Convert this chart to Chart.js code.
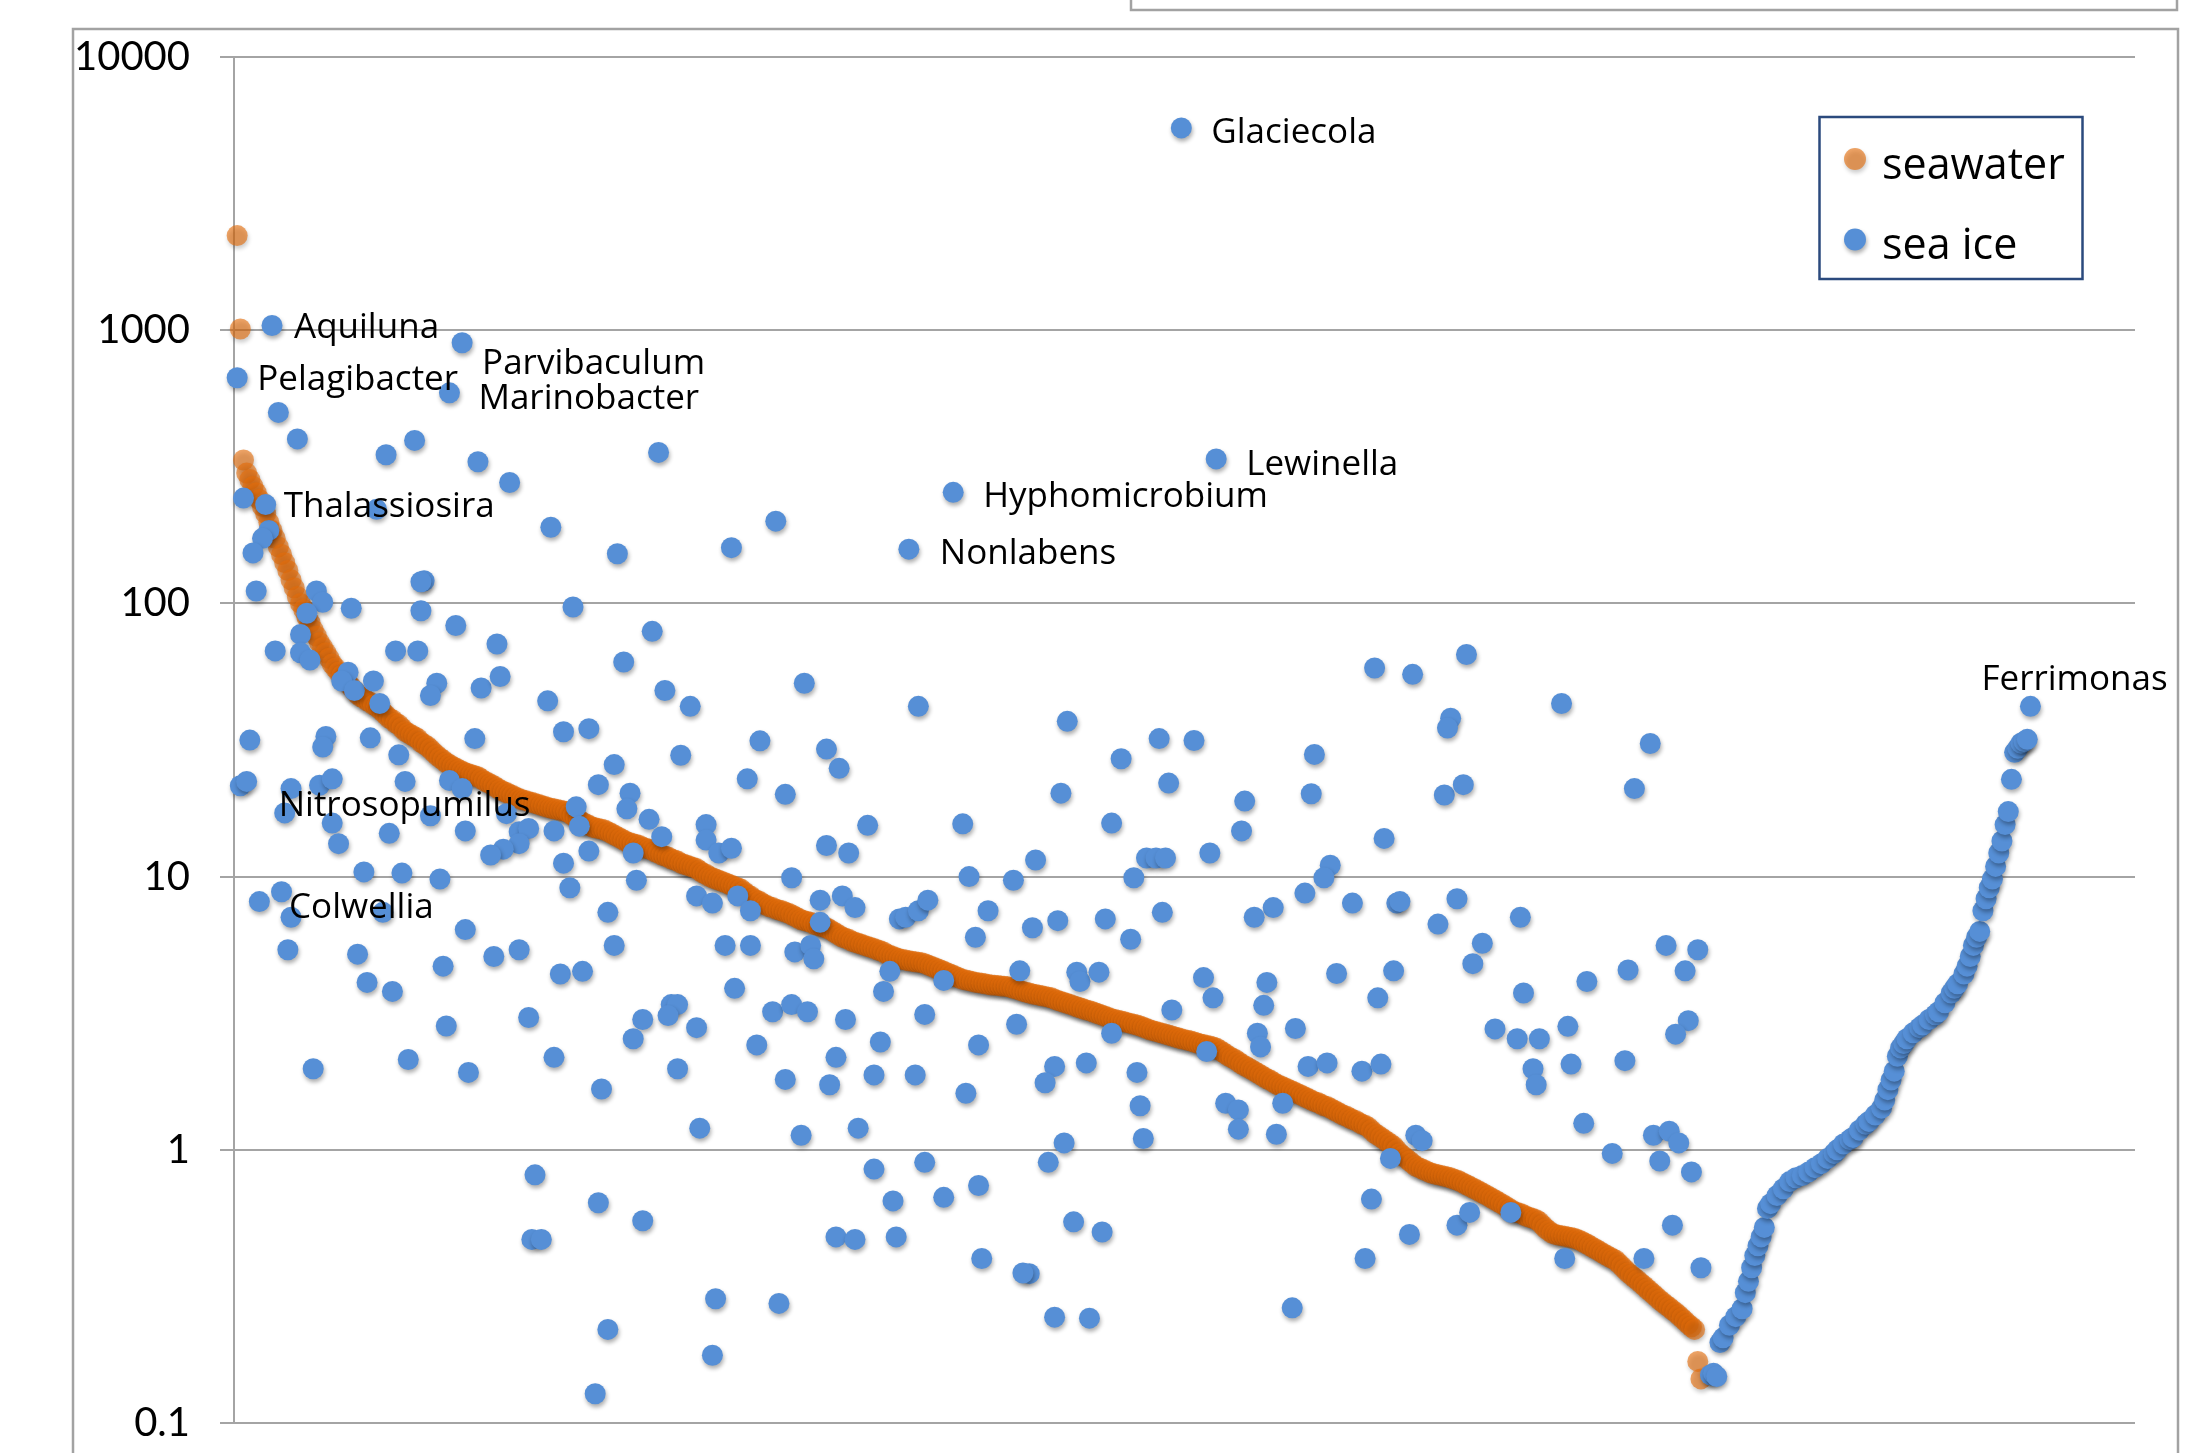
<!DOCTYPE html>
<html>
<head>
<meta charset="utf-8">
<title>seawater vs sea ice</title>
<script src="https://cdn.jsdelivr.net/npm/chart.js@4.4.1/dist/chart.umd.min.js"></script>
<style>
  html, body { margin: 0; padding: 0; background: #fff; }
  #wrap { position: relative; width: 2191px; height: 1453px; overflow: hidden; }
  canvas { display: block; }
</style>
</head>
<body>
<div id="wrap"><canvas id="chart" width="2191" height="1453"></canvas></div>
<script>
// ---- data ----
const yTicks = [0.1, 1, 10, 100, 1000, 10000];
const seriesNames = ['seawater', 'sea ice'];

// seawater relative abundance, one value per taxon, taxa ranked 1, 2, 3 ...
const seawater = [
  2220,1010,335,300,284,268,254,240,226,213, 198,185,173,161,151,141,132,122,114,106,
  100,95,89,85,80,76,72,69,66,63, 60,58,56,54.5,53,51,49.5,48,46.5,45.5,
  45,44,43.5,42.5,42,41,40,39,38,37.5, 36.5,36,35,34,33.5,33,32.5,32,31,30.5,
  30,29.3,28.5,27.8,27.2,26.7,26.1,25.7,25.3,25, 24.6,24.3,24,23.8,23.6,23.4,23.2,22.8,22.4,22.1,
  21.8,21.5,21.1,20.8,20.5,20.3,20,19.8,19.5,19.3, 19.1,19,18.8,18.7,18.5,18.4,18.2,18.1,17.9,17.8,
  17.7,17.6,17.5,17.4,17.3,17,16.7,16.4,16.1,15.8, 15.6,15.4,15.2,15.1,15,14.9,14.8,14.6,14.4,14.2,
  14,13.8,13.6,13.4,13.3,13.2,13.1,13,12.8,12.7, 12.6,12.5,12.3,12.2,12,11.9,11.8,11.6,11.5,11.4,
  11.2,11.1,11,10.9,10.8,10.7,10.5,10.3,10.2,10, 9.9,9.8,9.7,9.6,9.5,9.4,9.3,9.2,9.1,9,
  8.8,8.6,8.5,8.3,8.2,8.1,7.95,7.85,7.75,7.7, 7.6,7.55,7.5,7.4,7.35,7.25,7.15,7.05,6.95,6.9,
  6.85,6.8,6.7,6.65,6.6,6.55,6.5,6.4,6.3,6.2, 6.1,6,5.95,5.9,5.8,5.75,5.7,5.65,5.6,5.55,
  5.5,5.45,5.4,5.35,5.3,5.2,5.15,5.1,5.05,5, 4.97,4.95,4.92,4.9,4.88,4.86,4.84,4.8,4.75,4.7,
  4.65,4.6,4.55,4.5,4.45,4.4,4.35,4.3,4.25,4.2, 4.18,4.16,4.13,4.1,4.09,4.07,4.05,4.03,4.01,4,
  3.99,3.98,3.97,3.96,3.93,3.9,3.87,3.84,3.8,3.77, 3.75,3.72,3.7,3.68,3.66,3.64,3.62,3.6,3.56,3.52,
  3.49,3.46,3.43,3.4,3.37,3.34,3.31,3.28,3.25,3.23, 3.2,3.17,3.14,3.11,3.08,3.05,3.02,3,2.98,2.96,
  2.94,2.92,2.9,2.88,2.86,2.84,2.81,2.78,2.75,2.73, 2.71,2.69,2.67,2.65,2.63,2.61,2.59,2.57,2.55,2.53,
  2.52,2.5,2.48,2.46,2.44,2.43,2.41,2.4,2.38,2.36, 2.32,2.28,2.24,2.2,2.17,2.14,2.1,2.06,2.03,2,
  1.97,1.94,1.91,1.88,1.85,1.82,1.8,1.77,1.74,1.72, 1.7,1.68,1.66,1.64,1.62,1.6,1.58,1.56,1.54,1.52,
  1.5,1.49,1.47,1.45,1.44,1.42,1.4,1.38,1.36,1.34, 1.33,1.31,1.29,1.28,1.26,1.24,1.23,1.21,1.18,1.15,
  1.13,1.11,1.09,1.07,1.05,1.03,1,0.97,0.95,0.93, 0.91,0.89,0.87,0.86,0.85,0.84,0.83,0.82,0.815,0.81,
  0.805,0.8,0.795,0.79,0.78,0.775,0.765,0.755,0.745,0.735, 0.725,0.715,0.705,0.695,0.685,0.675,0.665,0.655,0.645,0.635,
  0.625,0.615,0.605,0.595,0.59,0.585,0.578,0.57,0.565,0.56, 0.555,0.545,0.53,0.515,0.505,0.495,0.49,0.487,0.485,0.483,
  0.48,0.478,0.475,0.47,0.465,0.458,0.452,0.445,0.438,0.432, 0.425,0.418,0.412,0.406,0.4,0.395,0.385,0.375,0.365,0.355,
  0.348,0.34,0.333,0.325,0.318,0.31,0.303,0.296,0.289,0.282, 0.276,0.27,0.265,0.259,0.254,0.248,0.242,0.236,0.23,0.225,
  0.22,0.168,0.145
];

// sea ice relative abundance: [taxon rank, abundance]
const seaIce = [
  [14,500],[20,400],[57,395],[48,350],[77,330],[134,357],[87,277],[3,243],[45,221],[100,190],[171,200],
  [157,160],[121,152],[11,185],[9,173],[6,153],[7,111],[26,111],[28,101],[60,121],[59,120],[37,96],[59,94],
  [107,97],[70,83],[23,92],[132,79],[21,77],[13,67],[51,67],[58,67],[83,71],[123,61],[21,66],[24,62],[36,56],
  [34,52],[38,48],[44,52],[46,43],[64,51],[62,46],[78,49],[84,54],[99,44],[136,48],[144,42],[180,51],
  [5,31.6],[29,32.6],[28,29.8],[43,32.2],[76,32],[104,33.9],[112,34.8],[141,27.8],[166,31.4],[187,29.3],
  [191,24.9],[52,27.9],[2,21.5],[4,22.3],[18,21],[27,21.6],[31,22.8],[54,22.3],[68,22.5],[120,25.7],[115,21.7],
  [125,20.2],[124,17.7],[162,22.8],[174,20],[200,15.4],[31,15.7],[33,13.2],[49,14.4],[62,16.7],[73,14.7],
  [86,17],[90,14.6],[93,15],[90,13.2],[85,12.6],[81,12],[72,21],[101,14.7],[108,18],[109,15.3],[112,12.4],
  [104,11.2],[106,9.1],[126,12.2],[127,9.7],[131,16.2],[135,14],[149,15.5],[149,13.6],[153,12.2],[157,12.7],
  [176,9.9],[187,13],[194,12.2],[146,8.5],[151,8],[159,8.5],[163,7.5],[185,8.2],[192,8.5],[196,7.7],[185,6.8],
  [210,7],[41,10.4],[53,10.3],[65,9.8],[8,8.1],[15,8.8],[47,7.4],[73,6.4],[17,5.4],[39,5.2],[66,4.7],[82,5.1],
  [90,5.4],[120,5.6],[118,7.4],[155,5.6],[163,5.6],[177,5.3],[182,5.6],[183,5],[103,4.4],[110,4.5],[42,4.1],
  [50,3.8],[158,3.9],[207,4.5],[205,3.8],[138,3.4],[140,3.4],[129,3],[126,2.55],[137,3.1],[146,2.8],[170,3.2],
  [176,3.4],[181,3.2],[193,3],[93,3.05],[67,2.84],[165,2.42],[204,2.48],[101,2.18],[55,2.14],[74,1.92],
  [25,1.98],[140,1.98],[190,2.18],[188,1.73],[174,1.81],[202,1.88],[116,1.67],[147,1.2],[179,1.13],[197,1.2],
  [202,0.85],[95,0.81],[115,0.64],[129,0.55],[208,0.65],[94,0.47],[97,0.47],[190,0.48],[196,0.47],[209,0.48],
  [152,0.285],[172,0.274],[118,0.22],[151,0.177],[114,0.128],
  [360,58],[372,55],[389,65],[216,42],[263,37],[384,38],[383,35],[292,32],[303,31.5],[419,43],
  [280,27],[341,28],[261,20.2],[295,22],[340,20.1],[382,19.9],[388,21.7],[319,18.9],[318,14.7],[230,15.6],
  [277,15.7],[363,13.8],[253,11.5],[288,11.7],[291,11.7],[294,11.7],[308,12.2],[232,10],[246,9.7],[284,9.9],
  [346,11],[344,9.9],[212,7.1],[216,7.5],[219,8.2],[238,7.5],[234,6],[252,6.5],[260,6.9],[275,7],[283,5.9],
  [293,7.4],[338,8.7],[328,7.7],[322,7.1],[353,8],[367,8],[368,8.1],[386,8.3],[380,6.7],[406,7.1],[394,5.7],
  [391,4.8],[407,3.75],[398,2.77],[405,2.55],[412,2.55],[410,1.98],[411,1.73],[224,4.17],[218,3.13],[215,1.88],
  [231,1.61],[235,2.42],[247,2.88],[248,4.52],[266,4.47],[267,4.13],[273,4.47],[259,2.02],[256,1.76],[269,2.08],
  [277,2.67],[285,1.92],[286,1.45],[287,1.1],[262,1.06],[257,0.9],[296,3.25],[307,2.29],[306,4.27],[309,3.6],
  [326,4.1],[325,3.38],[323,2.67],[324,2.38],[335,2.78],[313,1.48],[317,1.4],[317,1.19],[329,1.14],[331,1.48],
  [339,2.02],[345,2.08],[348,4.42],[356,1.94],[362,2.06],[361,3.6],[366,4.52],[373,1.13],[375,1.08],[365,0.93],
  [359,0.66],[371,0.49],[357,0.4],[386,0.53],[390,0.59],[403,0.59],[334,0.264],[218,0.9],[224,0.67],[235,0.74],
  [236,0.4],[251,0.352],[249,0.354],[265,0.545],[274,0.5],[259,0.244],[270,0.242],
  [447,30.7],[442,21],[452,5.6],[462,5.4],[440,4.55],[427,4.13],[458,4.52],[421,2.83],[422,2.06],[439,2.12],
  [459,2.97],[455,2.65],[426,1.25],[435,0.97],[448,1.13],[453,1.17],[456,1.06],[450,0.91],[460,0.83],[454,0.53],
  [463,0.37],[445,0.4],[420,0.4],
  // taxa found only in sea ice
  [466,0.15],[467,0.152],[468,0.148],[469,0.197],[470,0.205],[472,0.228],[474,0.245],[476,0.262],[477,0.3],
  [478,0.33],[479,0.37],[480,0.41],[481,0.445],[482,0.48],[483,0.52],[484,0.61],[485,0.635],[487,0.68],
  [489,0.72],[491,0.765],[493,0.79],[495,0.805],[497,0.83],[499,0.86],[501,0.89],[503,0.93],[505,0.97],[506,1],
  [508,1.05],[510,1.09],[511,1.11],[513,1.18],[515,1.24],[516,1.27],[518,1.34],[520,1.42],[521,1.52],[522,1.66],
  [523,1.8],[524,1.94],[525,2.2],[526,2.36],[527,2.45],[528,2.55],[530,2.68],[532,2.8],[533,2.86],[535,3],
  [537,3.12],[538,3.2],[540,3.45],[542,3.75],[543,3.9],[544,4.05],[546,4.4],[547,4.7],[548,5.1],[549,5.6],
  [550,6],[551,6.3],[552,7.5],[553,8.3],[554,9.1],[555,9.8],[556,10.9],[557,12.2],[558,13.5],[559,15.5],
  [560,17.3],[561,22.7],[562,28.5],[563,29.5],[564,30.8],[565,31.2],[566,31.8]
];

// named sea-ice taxa: [genus, rank, abundance]
const namedTaxa = [
  ['Glaciecola',299,5500],['Aquiluna',12,1040],['Pelagibacter',1,670],['Parvibaculum',72,900],
  ['Marinobacter',68,590],['Thalassiosira',10,230],['Lewinella',310,338],['Hyphomicrobium',227,255],
  ['Nonlabens',213,158],['Nitrosopumilus',16,17.1],['Colwellia',18,7.1],['Ferrimonas',567,42]
];

// ---- styling ----
const BLUE = '#568fd6';
const ORANGE = 'rgba(228,108,10,0.62)';
const GRID = '#a4a4a4';
const LABEL_FONT = '35px "Open Sans"';
// text offset (px) from each marker centre: [dx, baseline dy]
const labelOffsets = {
  Glaciecola: [30, 15], Aquiluna: [22, 12], Pelagibacter: [20, 12], Parvibaculum: [20, 31],
  Marinobacter: [29, 16], Thalassiosira: [18, 12], Lewinella: [30, 16], Hyphomicrobium: [30, 15],
  Nonlabens: [31, 15], Nitrosopumilus: [-6, 3], Colwellia: [-2, 1], Ferrimonas: [-49, -16]
};

const toXY = arr => arr.map(([x, y]) => ({ x, y }));

function setShadow(c) {
  c.shadowColor = 'rgba(0,0,0,0.32)';
  c.shadowBlur = 4;
  c.shadowOffsetX = 1;
  c.shadowOffsetY = 3;
}

const framePlugin = {
  id: 'frame',
  beforeDraw(chart) {
    const c = chart.ctx;
    c.save();
    c.fillStyle = '#fff';
    c.fillRect(0, 0, chart.width, chart.height);
    c.strokeStyle = '#a2a2a2';
    c.lineWidth = 2.5;
    c.strokeRect(73, 29, 2105, 1500);
    c.strokeRect(1131, -10, 1046, 20);
    c.restore();
  }
};

const shadowPlugin = {
  id: 'markerShadow',
  beforeDatasetsDraw(chart) { chart.ctx.save(); setShadow(chart.ctx); },
  afterDatasetsDraw(chart) { chart.ctx.restore(); }
};

const labelPlugin = {
  id: 'taxonLabels',
  afterDraw(chart) {
    const c = chart.ctx, xs = chart.scales.x, ys = chart.scales.y;
    c.save();
    c.font = LABEL_FONT;
    c.fillStyle = '#000';
    c.textAlign = 'left';
    c.textBaseline = 'alphabetic';
    namedTaxa.forEach(([name, rank, val]) => {
      const [dx, dy] = labelOffsets[name];
      c.fillText(name, xs.getPixelForValue(rank) + dx, ys.getPixelForValue(val) + dy);
    });
    c.restore();
  }
};

const legendPlugin = {
  id: 'legendBox',
  afterDraw(chart) {
    const c = chart.ctx;
    const entries = [
      { text: seriesNames[0], color: ORANGE, cy: 159, base: 179 },
      { text: seriesNames[1], color: BLUE, cy: 239.5, base: 259 }
    ];
    c.save();
    c.strokeStyle = '#2b4a7d';
    c.lineWidth = 2.5;
    c.strokeRect(1819.5, 117, 263, 162);
    entries.forEach(e => {
      c.save();
      setShadow(c);
      c.fillStyle = e.color;
      c.beginPath();
      c.arc(1855, e.cy, 11, 0, Math.PI * 2);
      c.fill();
      c.restore();
      c.font = '43px "Open Sans"';
      c.fillStyle = '#000';
      c.textBaseline = 'alphabetic';
      c.fillText(e.text, 1882, e.base);
    });
    c.restore();
  }
};

function draw() {
  const iceData = seaIce.concat(namedTaxa.map(t => [t[1], t[2]]));
  const waterData = seawater.map((v, i) => [i + 1, v]);
  new Chart(document.getElementById('chart'), {
    type: 'scatter',
    data: {
      datasets: [
        { label: seriesNames[1], data: toXY(iceData), backgroundColor: BLUE,
          pointRadius: 10.5, pointBorderWidth: 0, order: 0, clip: false },
        { label: seriesNames[0], data: toXY(waterData), backgroundColor: ORANGE,
          pointRadius: 10.5, pointBorderWidth: 0, order: 1, clip: false }
      ]
    },
    options: {
      responsive: false,
      animation: false,
      devicePixelRatio: 1,
      events: [],
      layout: { padding: { top: 57, bottom: 30, right: 56, left: 0 } },
      plugins: { legend: { display: false }, tooltip: { enabled: false } },
      scales: {
        x: { type: 'linear', min: 0, max: 600, display: false },
        y: {
          type: 'logarithmic', min: 0.1, max: 10000,
          afterFit: s => { s.width = 234; s.paddingTop = 0; s.paddingBottom = 0; },
          afterBuildTicks: s => { s.ticks = yTicks.map(v => ({ value: v })); },
          grid: { color: GRID, lineWidth: 2, tickLength: 14, drawTicks: true },
          border: { color: GRID, width: 2 },
          ticks: { padding: 30, color: '#000', font: { family: 'Lato', size: 40 },
                   callback: v => String(v) }
        }
      }
    },
    plugins: [framePlugin, shadowPlugin, labelPlugin, legendPlugin]
  });
}

Promise.all([
  document.fonts.load('35px "Open Sans"'),
  document.fonts.load('43px "Open Sans"'),
  document.fonts.load('40px Lato')
]).then(draw, draw);
</script>
</body>
</html>
